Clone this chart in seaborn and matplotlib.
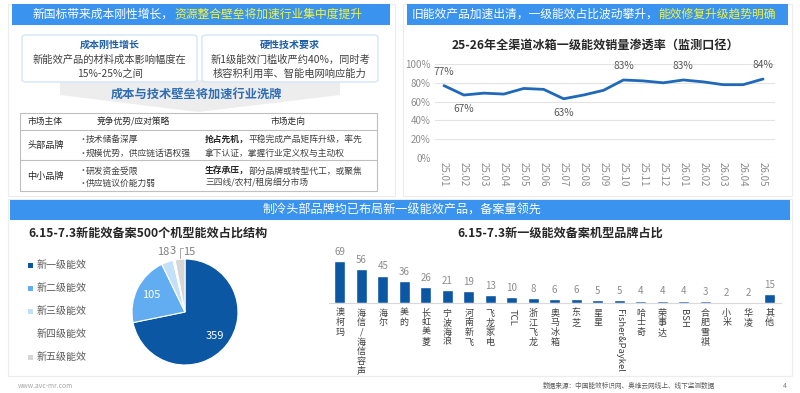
import numpy as np
import pandas as pd
import matplotlib
matplotlib.use("Agg")
import matplotlib.pyplot as plt
import seaborn as sns
from matplotlib.patches import Rectangle, FancyBboxPatch, Polygon
from matplotlib.lines import Line2D

# ---------------- data ----------------
months = ["25.01", "25.02", "25.03", "25.04", "25.05", "25.06", "25.07", "25.08", "25.09",
          "25.10", "25.11", "25.12", "26.01", "26.02", "26.03", "26.04", "26.05"]
penetration = [77, 67, 69, 68, 74, 73, 63, 67, 72, 83, 82, 80, 83, 81, 78, 78, 84]
labelled_points = {"25.01": "77%", "25.02": "67%", "25.07": "63%", "25.10": "83%", "26.01": "83%", "26.05": "84%"}
below_points = ["25.02", "25.07"]

pie_labels = ["新一级能效", "新二级能效", "新三级能效", "新四级能效", "新五级能效"]
pie_values = [359, 105, 18, 3, 15]
pie_colors = ["#0b57a4", "#62adf1", "#c4e0f9", "#ffffff", "#d6d6d6"]

brands = ["澳柯玛", "海信/海信容声", "海尔", "美的", "长虹美菱", "宁波海浪", "河南新飞", "飞龙家电", "TCL",
          "浙江飞龙", "奥马冰箱", "东芝", "星星", "Fisher&Paykel", "哈士奇", "荣事达", "BSH", "合肥雪祺",
          "小米", "华凌", "其他"]
brand_counts = [69, 56, 45, 36, 26, 21, 19, 13, 10, 8, 6, 6, 5, 5, 4, 4, 4, 3, 2, 2, 15]
light_brands = ["小米", "华凌"]

# ---------------- setup ----------------
sns.set_theme(style="white")
plt.rcParams['font.family'] = ['Noto Sans CJK SC', 'DejaVu Sans']
plt.rcParams['axes.unicode_minus'] = False

W, H = 800, 393
fig = plt.figure(figsize=(8, 3.93), dpi=100, facecolor='white')
renderer = fig.canvas.get_renderer()

def fx(x):
    return x / W

def fy(y):
    return 1 - y / H

def rect(x0, y0, x1, y1, **kw):
    p = Rectangle((fx(x0), fy(y1)), (x1 - x0) / W, (y1 - y0) / H, transform=fig.transFigure, **kw)
    fig.patches.append(p)
    return p

def ftext(x, y, s, **kw):
    kw.setdefault('va', 'center')
    return fig.text(fx(x), fy(y), s, **kw)

def two_part(x, y, s1, s2, c1, c2, size, w1='normal', w2='normal'):
    t1 = ftext(x, y, s1, color=c1, fontsize=size, fontweight=w1, ha='left')
    bb = t1.get_window_extent(renderer)
    fig.text(bb.x1 / W, fy(y), s2, color=c2, fontsize=size, fontweight=w2, ha='left', va='center')

BLUE_BAR = '#3a93ee'

# panels (behind everything)
rect(8, 4, 395, 196, fc='white', ec='#ececec', lw=0.8, zorder=-10)
rect(403, 4, 792, 196, fc='white', ec='#ececec', lw=0.8, zorder=-10)
rect(8, 199, 792, 376, fc='white', ec='#ececec', lw=0.8, zorder=-10)

# ---------------- top-left section ----------------
rect(12, 4, 390, 25, fc=BLUE_BAR, ec='none')
two_part(33, 14.5, "新国标带来成本刚性增长，", "资源整合壁垒将加速行业集中度提升", 'white', '#f5f53a', 8.5)

chev = Polygon([(fx(60), fy(80)), (fx(340), fy(80)), (fx(340), fy(95)), (fx(198), fy(112)), (fx(60), fy(95))],
               closed=True, transform=fig.transFigure, fc='#ededed', ec='none', zorder=-5)
fig.patches.append(chev)

for (x0, x1, title, l1, l2) in [(22, 197, "成本刚性增长", "新能效产品的材料成本影响幅度在", "15%-25%之间"),
                                (202, 378, "硬性技术要求", "新1级能效门槛收严约40%，同时考", "核容积利用率、智能电网响应能力")]:
    bx = FancyBboxPatch((fx(x0), fy(82)), (x1 - x0) / W, 47 / H, boxstyle="round,pad=0,rounding_size=0.006",
                        transform=fig.transFigure, fc='white', ec='#d3e5f8', lw=1.0)
    fig.patches.append(bx)
    cx = (x0 + x1) / 2
    ftext(cx, 45, title, ha='center', fontsize=7.2, fontweight='bold', color='#1f5fa8')
    ftext(cx, 60, l1, ha='center', fontsize=7.4, color='#404040')
    ftext(cx, 74, l2, ha='center', fontsize=7.4, color='#404040')

ftext(196, 94, "成本与技术壁垒将加速行业洗牌", ha='center', fontsize=8.8, fontweight='bold', color='#2e6db4')

# table
rect(20, 113, 377, 191, fc='white', ec='#bfbfbf', lw=0.8)
for yy in (130, 160):
    fig.add_artist(Line2D([fx(20), fx(377)], [fy(yy), fy(yy)], transform=fig.transFigure, color='#bfbfbf', lw=0.8))
TS = 6.3
TC = '#262626'
ftext(27, 121.5, "市场主体", ha='left', fontsize=TS, color=TC)
ftext(133, 121.5, "竞争优势/应对策略", ha='center', fontsize=TS, color=TC)
ftext(288, 121.5, "市场走向", ha='center', fontsize=TS, color=TC)
ftext(27, 145, "头部品牌", ha='left', fontsize=TS + 0.3, color=TC)
ftext(27, 176, "中小品牌", ha='left', fontsize=TS + 0.3, color=TC)
for yy, s in [(139, "技术储备深厚"), (153, "规模优势，供应链话语权强"), (171, "研发资金受限"), (183, "供应链议价能力弱")]:
    ftext(78, yy, "·", ha='left', fontsize=TS, color='#595959')
    ftext(86, yy, s, ha='left', fontsize=TS, color='#404040')
two_part(205, 139, "抢占先机，", "平稳完成产品矩阵升级，率先", TC, '#404040', TS, 'bold', 'normal')
ftext(205, 153, "拿下认证，掌握行业定义权与主动权", ha='left', fontsize=TS, color='#404040')
two_part(205, 171, "生存承压，", "部分品牌或转型代工，或聚焦", TC, '#404040', TS, 'bold', 'normal')
ftext(205, 183, "三四线/农村/租房细分市场", ha='left', fontsize=TS, color='#404040')

# ---------------- top-right line chart ----------------
rect(407, 4, 788, 25, fc=BLUE_BAR, ec='none')
two_part(412, 14.5, "旧能效产品加速出清，一级能效占比波动攀升，", "能效修复升级趋势明确", 'white', '#f5f53a', 8.5)
ftext(595, 45, "25-26年全渠道冰箱一级能效销量渗透率（监测口径）", ha='center', fontsize=8.7,
      fontweight='bold', color='#262626')

ax1 = fig.add_axes([fx(435), fy(158), (775 - 435) / W, (158 - 64) / H])
ax1.set_zorder(5)
line_df = pd.DataFrame({"idx": np.arange(len(months)), "month": months, "rate": penetration})
sns.lineplot(data=line_df, x="idx", y="rate", ax=ax1, color='#1f69b8', lw=2.0)
ax1.set_xlim(-0.45, 16.6)
ax1.set_ylim(0, 100)
ax1.set_yticks(range(0, 101, 20))
ax1.set_yticklabels([f"{v}%" for v in range(0, 101, 20)], fontsize=7, color='#8c8c8c')
ax1.set_xticks(line_df["idx"])
ax1.set_xticklabels(months, rotation=-90, fontsize=7, color='#8c8c8c')
ax1.tick_params(axis='both', length=0, pad=3)
ax1.grid(axis='y', color='#e3e3e3', lw=0.8)
ax1.set_axisbelow(True)
for s in ax1.spines.values():
    s.set_visible(False)
ax1.set_xlabel("")
ax1.set_ylabel("")
ax1.set_facecolor('none')
for i, m in enumerate(months):
    if m in labelled_points:
        off = -10 if m in below_points else 10
        ax1.annotate(labelled_points[m], (i, penetration[i]), xytext=(0, off), textcoords='offset points',
                     ha='center', va='center', fontsize=7.3, color='#595959')

# ---------------- bottom section ----------------
rect(10, 200, 790, 220, fc=BLUE_BAR, ec='none')
ftext(402, 210.5, "制冷头部品牌均已布局新一级能效产品，备案量领先", ha='center', fontsize=8.7, color='white')
ftext(28, 233, "6.15-7.3新能效备案500个机型能效占比结构", ha='left', fontsize=8.7, fontweight='bold', color='#262626')
ftext(457, 233, "6.15-7.3新一级能效备案机型品牌占比", ha='left', fontsize=8.7, fontweight='bold', color='#262626')

# pie
R = 53
ax2 = fig.add_axes([fx(185 - R), fy(312 + R), 2 * R / W, 2 * R / H])
ax2.set_zorder(5)
wedges, _ = ax2.pie(pie_values, colors=pie_colors, startangle=90, counterclock=False,
                    wedgeprops=dict(edgecolor='white', linewidth=0.8))
ax2.set_xlim(-1, 1)
ax2.set_ylim(-1, 1)
ax2.set_aspect('equal')
total = sum(pie_values)
cum = 0
for i, v in enumerate(pie_values):
    mid = np.deg2rad(90 - (cum + v / 2) / total * 360)
    cum += v
    if i < 2:
        r = 0.72
        ax2.text(r * np.cos(mid), r * np.sin(mid), str(v), ha='center', va='center', fontsize=8, color='white')
    elif i == 2:
        r = 1.2
        ax2.text(r * np.cos(mid) - 0.02, r * np.sin(mid), str(v), ha='center', va='center', fontsize=8, color='#7f7f7f')
    elif i == 3:
        r = 1.17
        ax2.text(r * np.cos(mid) + 0.01, r * np.sin(mid), str(v), ha='center', va='center', fontsize=8, color='#7f7f7f')
    else:
        ax2.plot([-0.09, -0.09, -0.03], [1.02, 1.2, 1.2], color='#a6a6a6', lw=0.7, clip_on=False)
        ax2.text(0.08, 1.14, str(v), ha='center', va='center', fontsize=8, color='#7f7f7f')

for i, (lab, c) in enumerate(zip(pie_labels, pie_colors)):
    yy = 265 + i * 23
    if c != '#ffffff':
        rect(28, yy - 2.5, 33, yy + 2.5, fc=c, ec='none')
    ftext(37, yy, lab, ha='left', fontsize=7.2, color='#595959')

# bar chart
ax3 = fig.add_axes([fx(329), fy(303), 451.5 / W, 58 / H])
ax3.set_zorder(5)
bar_df = pd.DataFrame({"brand": brands, "count": brand_counts})
palette = {b: ('#6db2ee' if b in light_brands else '#0b57a4') for b in brands}
sns.barplot(data=bar_df, x="brand", y="count", hue="brand", palette=palette, width=0.5,
            ax=ax3, legend=False, saturation=1)
ax3.set_xlim(-0.5, len(brands) - 0.5)
ax3.set_ylim(0, 95.3)
for cont in ax3.containers:
    ax3.bar_label(cont, padding=3, fontsize=7, color='#8c8c8c')
for s in ['top', 'right', 'left']:
    ax3.spines[s].set_visible(False)
ax3.spines['bottom'].set_color('#d9d9d9')
ax3.spines['bottom'].set_linewidth(0.8)
ax3.set_yticks([])
ax3.set_xlabel("")
ax3.set_ylabel("")
ax3.set_facecolor('none')

def is_latin(s):
    return all(ord(ch) < 128 for ch in s)

def stack(s):
    return s if is_latin(s) else "\n".join(s)

ax3.set_xticks(range(len(brands)))
ax3.set_xticklabels([stack(b) for b in brands], fontsize=6.5, color='#404040', linespacing=1.1)
for t, b in zip(ax3.get_xticklabels(), brands):
    if is_latin(b):
        t.set_rotation(-90)
        t.set_fontsize(6.8)
ax3.tick_params(axis='x', length=0, pad=4)

# footer
ftext(18, 386, "www.avc-mr.com", ha='left', fontsize=4.8, color='#a6a6a6')
ftext(543, 386, "数据来源：中国能效标识网、奥维云网线上、线下监测数据", ha='left', fontsize=4.8, color='#595959')
ftext(783, 386, "4", ha='left', fontsize=5, color='#7f7f7f')

fig.savefig("out.png", dpi=100, facecolor='white')
